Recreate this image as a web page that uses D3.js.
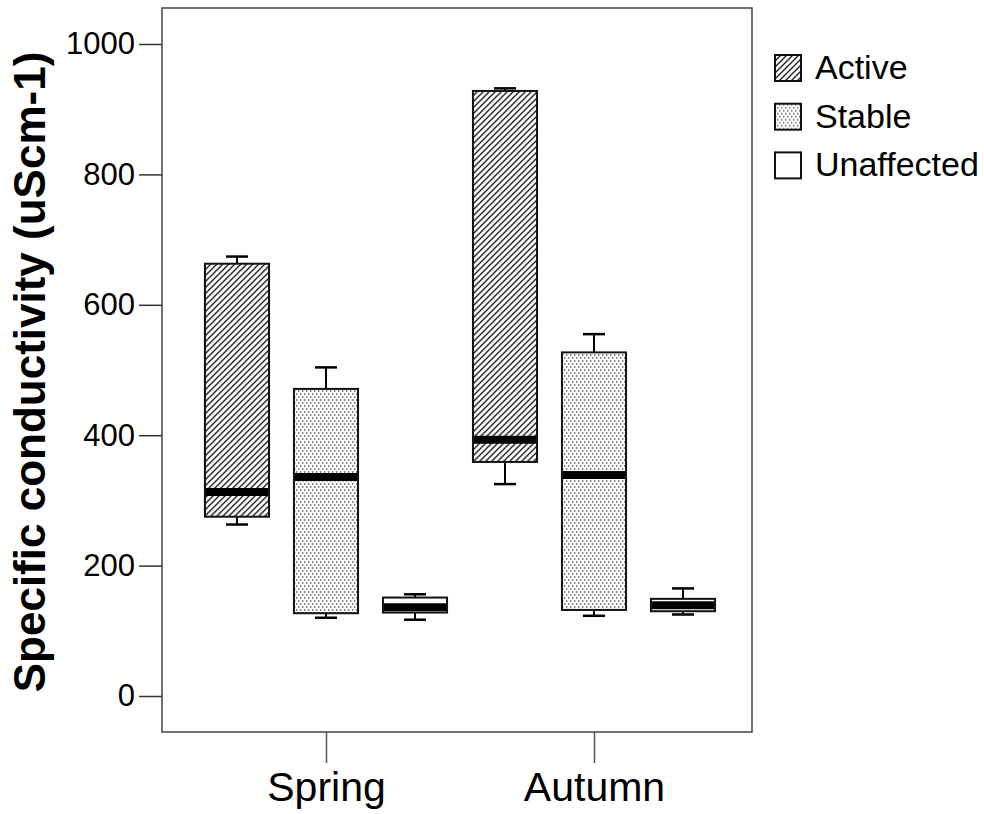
<!DOCTYPE html>
<html>
<head>
<meta charset="utf-8">
<script src="https://cdn.jsdelivr.net/npm/d3@7"></script>
<style>
  html, body { margin: 0; padding: 0; background: #fff; }
  svg { display: block; font-family: "Liberation Sans", Arial, sans-serif; }
</style>
</head>
<body>
<svg id="chart" width="984" height="814"></svg>
<script>
// Seasons on the x axis and site types drawn as side-by-side boxes
const seasons = ["Spring", "Autumn"];
const siteTypes = ["Active", "Stable", "Unaffected"];

// Box statistics per site type, one entry per season: [min, q1, median, q3, max]
const activeStats = [[263, 275, 313, 663, 674], [325, 359, 393, 928, 932]];
const stableStats = [[120, 127, 336, 471, 504], [123, 132, 339, 527, 555]];
const unaffectedStats = [[117, 128, 136, 151, 156], [125, 130, 139, 149, 165]];

const yTicks = [0, 200, 400, 600, 800, 1000];
const yTitle = "Specific conductivity (uScm-1)";

const statsByType = { Active: activeStats, Stable: stableStats, Unaffected: unaffectedStats };
const boxes = [];
seasons.forEach((season, si) => {
  siteTypes.forEach(type => {
    const [min, q1, median, q3, max] = statsByType[type][si];
    boxes.push({ season, type, min, q1, median, q3, max });
  });
});

const svg = d3.select("#chart");
const frame = { left: 162, right: 752, top: 8, bottom: 732 };

const y = d3.scaleLinear().domain([0, 1000]).range([696, 44]);
const x = d3.scalePoint().domain(seasons).range([326, 594]);
const inner = d3.scaleBand().domain(siteTypes).range([-133.5, 133.5])
  .paddingInner(0.28).paddingOuter(0.14);

// Fill patterns: diagonal hatching, fine dot screen, plain white
const defs = svg.append("defs");
const hatch = defs.append("pattern").attr("id", "hatch")
  .attr("patternUnits", "userSpaceOnUse").attr("width", 6).attr("height", 6);
hatch.append("rect").attr("width", 6).attr("height", 6).attr("fill", "#fff");
hatch.append("path")
  .attr("d", "M0,6 L6,0 M-1.5,1.5 L1.5,-1.5 M4.5,7.5 L7.5,4.5")
  .attr("stroke", "#2a2a2a").attr("stroke-width", 1.5);

const dots = defs.append("pattern").attr("id", "dots")
  .attr("patternUnits", "userSpaceOnUse").attr("width", 4).attr("height", 6);
dots.append("rect").attr("width", 4).attr("height", 6).attr("fill", "#fff");
dots.append("rect").attr("x", 0).attr("y", 0).attr("width", 1.4).attr("height", 2).attr("fill", "#808080");
dots.append("rect").attr("x", 2).attr("y", 3).attr("width", 1.4).attr("height", 2).attr("fill", "#808080");

const fillFor = { Active: "url(#hatch)", Stable: "url(#dots)", Unaffected: "#fff" };

// Plot frame
svg.append("rect")
  .attr("x", frame.left).attr("y", frame.top)
  .attr("width", frame.right - frame.left).attr("height", frame.bottom - frame.top)
  .attr("fill", "none").attr("stroke", "#444").attr("stroke-width", 1.5);

// Y axis
const yAxis = d3.axisLeft(y).tickValues(yTicks).tickFormat(d3.format("d"))
  .tickSize(23).tickPadding(4);
const gy = svg.append("g").attr("transform", `translate(${frame.left},0)`).call(yAxis);
gy.select(".domain").remove();
gy.selectAll(".tick line").attr("stroke", "#333").attr("stroke-width", 1.5);
gy.selectAll(".tick text").attr("font-size", 31).attr("fill", "#000")
  .attr("font-family", "Liberation Sans, Arial, sans-serif");

// X axis
const xAxis = d3.axisBottom(x).tickSize(31).tickPadding(9);
const gx = svg.append("g").attr("transform", `translate(0,${frame.bottom})`).call(xAxis);
gx.select(".domain").remove();
gx.selectAll(".tick line").attr("stroke", "#555").attr("stroke-width", 1.5);
gx.selectAll(".tick text").attr("font-size", 41).attr("fill", "#000")
  .attr("font-family", "Liberation Sans, Arial, sans-serif");

// Y axis title
svg.append("text")
  .attr("transform", `translate(45,${(frame.top + frame.bottom) / 2 + 2}) rotate(-90)`)
  .attr("text-anchor", "middle")
  .attr("font-size", 44).attr("font-weight", "bold")
  .text(yTitle);

// Box plots
const bw = inner.bandwidth();
const capW = 22;
const g = svg.append("g");
const box = g.selectAll("g.box").data(boxes).join("g").attr("class", "box")
  .attr("transform", d => `translate(${x(d.season) + inner(d.type)},0)`);

box.append("line").attr("class", "whisker-hi")
  .attr("x1", bw / 2).attr("x2", bw / 2)
  .attr("y1", d => y(d.max)).attr("y2", d => y(d.q3))
  .attr("stroke", "#000").attr("stroke-width", 2);
box.append("line").attr("class", "whisker-lo")
  .attr("x1", bw / 2).attr("x2", bw / 2)
  .attr("y1", d => y(d.min)).attr("y2", d => y(d.q1))
  .attr("stroke", "#000").attr("stroke-width", 2);
box.append("line")
  .attr("x1", bw / 2 - capW / 2).attr("x2", bw / 2 + capW / 2)
  .attr("y1", d => y(d.max)).attr("y2", d => y(d.max))
  .attr("stroke", "#000").attr("stroke-width", 2.5);
box.append("line")
  .attr("x1", bw / 2 - capW / 2).attr("x2", bw / 2 + capW / 2)
  .attr("y1", d => y(d.min)).attr("y2", d => y(d.min))
  .attr("stroke", "#000").attr("stroke-width", 2.5);

box.append("rect")
  .attr("x", 0).attr("width", bw)
  .attr("y", d => y(d.q3)).attr("height", d => y(d.q1) - y(d.q3))
  .attr("fill", d => fillFor[d.type])
  .attr("stroke", "#111").attr("stroke-width", 2);

box.append("line")
  .attr("x1", 1).attr("x2", bw - 1)
  .attr("y1", d => y(d.median)).attr("y2", d => y(d.median))
  .attr("stroke", "#000").attr("stroke-width", 8);

// Legend
const legend = svg.append("g").attr("transform", "translate(775,55)");
const item = legend.selectAll("g").data(siteTypes).join("g")
  .attr("transform", (d, i) => `translate(0,${i * 48.7})`);
item.append("rect").attr("width", 26).attr("height", 26)
  .attr("fill", d => fillFor[d]).attr("stroke", "#111").attr("stroke-width", 2);
item.append("text").attr("x", 40).attr("y", 24)
  .attr("font-size", 34).text(d => d);
</script>
</body>
</html>
